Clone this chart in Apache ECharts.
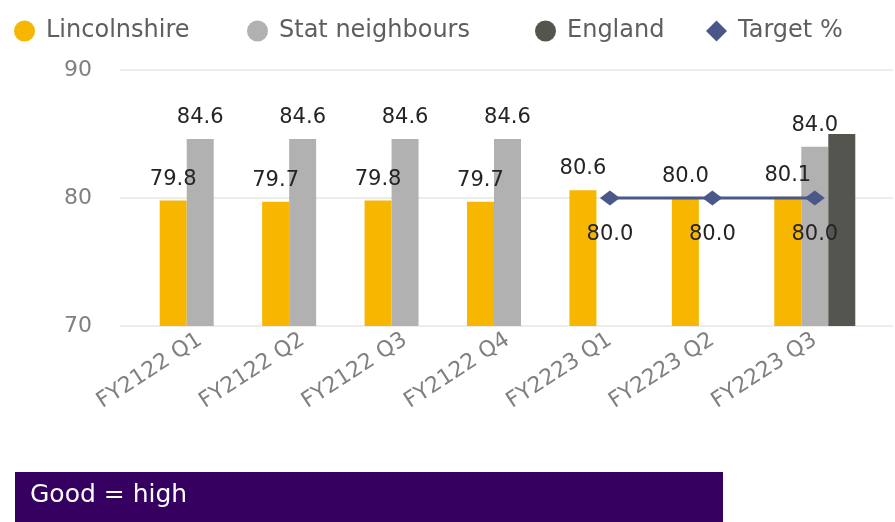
<!DOCTYPE html>
<html>
<head>
<meta charset="utf-8">
<script src="https://cdn.jsdelivr.net/npm/echarts@6/dist/echarts.min.js"></script>
<style>
  html, body { margin: 0; padding: 0; background: #fff; }
  #chart { width: 895px; height: 522px; }
</style>
</head>
<body>
<div id="chart"></div>
<script>
const categories = ['FY2122 Q1', 'FY2122 Q2', 'FY2122 Q3', 'FY2122 Q4', 'FY2223 Q1', 'FY2223 Q2', 'FY2223 Q3'];
const lincolnshire = [79.8, 79.7, 79.8, 79.7, 80.6, 80.0, 80.1];
const statNeighbours = [84.6, 84.6, 84.6, 84.6, null, null, 84.0];
const england = [null, null, null, null, null, null, 85.0];
const target = [null, null, null, null, 80.0, 80.0, 80.0];
const yTicks = [70, 80, 90];

const seriesNames = ['Lincolnshire', 'Stat neighbours', 'England', 'Target %'];
const legendIcons = ['circle', 'circle', 'circle', 'diamond'];
const legendLeft = [9, 242, 530, 701];

const font = 'DejaVu Sans';
const chart = echarts.init(document.getElementById('chart'));

const labelStyle = {
  show: true,
  position: 'top',
  distance: 11,
  color: '#252423',
  fontSize: 21,
  fontFamily: font,
  formatter: p => p.value == null ? '' : p.value.toFixed(1)
};

// one legend per item so they spread like the original
const legends = seriesNames.map((name, i) => ({
  left: legendLeft[i],
  top: 14,
  itemWidth: 21,
  itemHeight: 21,
  textStyle: { color: '#605E5C', fontSize: 24, fontFamily: font, padding: [0, 0, 0, 6] },
  data: [{ name: name, icon: legendIcons[i] }]
}));

const option = {
  animation: false,
  legend: legends,
  grid: [
    // background grid: gridlines and y labels
    { left: 120, right: 2, top: 70, bottom: 196 },
    // data grid
    { left: 149, right: 29, top: 70, bottom: 196 }
  ],
  xAxis: [
    { gridIndex: 0, type: 'category', data: categories, show: false },
    {
      gridIndex: 1,
      type: 'category',
      data: categories,
      axisLine: { show: false },
      axisTick: { show: false },
      axisLabel: { rotate: 33, color: '#808080', fontSize: 22, fontFamily: font, margin: 12 }
    }
  ],
  yAxis: [
    {
      gridIndex: 0,
      type: 'value',
      min: yTicks[0],
      max: yTicks[yTicks.length - 1],
      interval: 10,
      axisLine: { show: false },
      axisTick: { show: false },
      axisLabel: { color: '#808080', fontSize: 22, fontFamily: font, margin: 28 },
      splitLine: { lineStyle: { color: '#E6E6E6', width: 1.5 } }
    },
    {
      gridIndex: 1,
      type: 'value',
      min: yTicks[0],
      max: yTicks[yTicks.length - 1],
      interval: 10,
      show: false,
      splitLine: { show: false }
    }
  ],
  series: [
    {
      name: seriesNames[0],
      type: 'bar',
      xAxisIndex: 1,
      yAxisIndex: 1,
      data: lincolnshire,
      barWidth: 27,
      barGap: '0%',
      itemStyle: { color: '#F7B600' },
      label: labelStyle
    },
    {
      name: seriesNames[1],
      type: 'bar',
      xAxisIndex: 1,
      yAxisIndex: 1,
      data: statNeighbours,
      barWidth: 27,
      barGap: '0%',
      itemStyle: { color: '#B1B1B1' },
      label: labelStyle
    },
    {
      name: seriesNames[2],
      type: 'bar',
      xAxisIndex: 1,
      yAxisIndex: 1,
      data: england,
      barWidth: 27,
      barGap: '0%',
      itemStyle: { color: '#55554F' }
    },
    {
      name: seriesNames[3],
      type: 'line',
      xAxisIndex: 1,
      yAxisIndex: 1,
      data: target,
      symbol: 'diamond',
      symbolSize: [20, 15],
      lineStyle: { color: '#4A5889', width: 3 },
      itemStyle: { color: '#4A5889' },
      label: Object.assign({}, labelStyle, { position: 'bottom', distance: 19 }),
      z: 5
    }
  ],
  graphic: [
    {
      type: 'rect',
      left: 15,
      top: 472,
      shape: { width: 708, height: 50 },
      style: { fill: '#35005F' }
    },
    {
      type: 'text',
      left: 30,
      top: 483,
      style: { text: 'Good = high', fill: '#FFFFFF', fontSize: 25, fontFamily: font }
    }
  ]
};

chart.setOption(option);
</script>
</body>
</html>
